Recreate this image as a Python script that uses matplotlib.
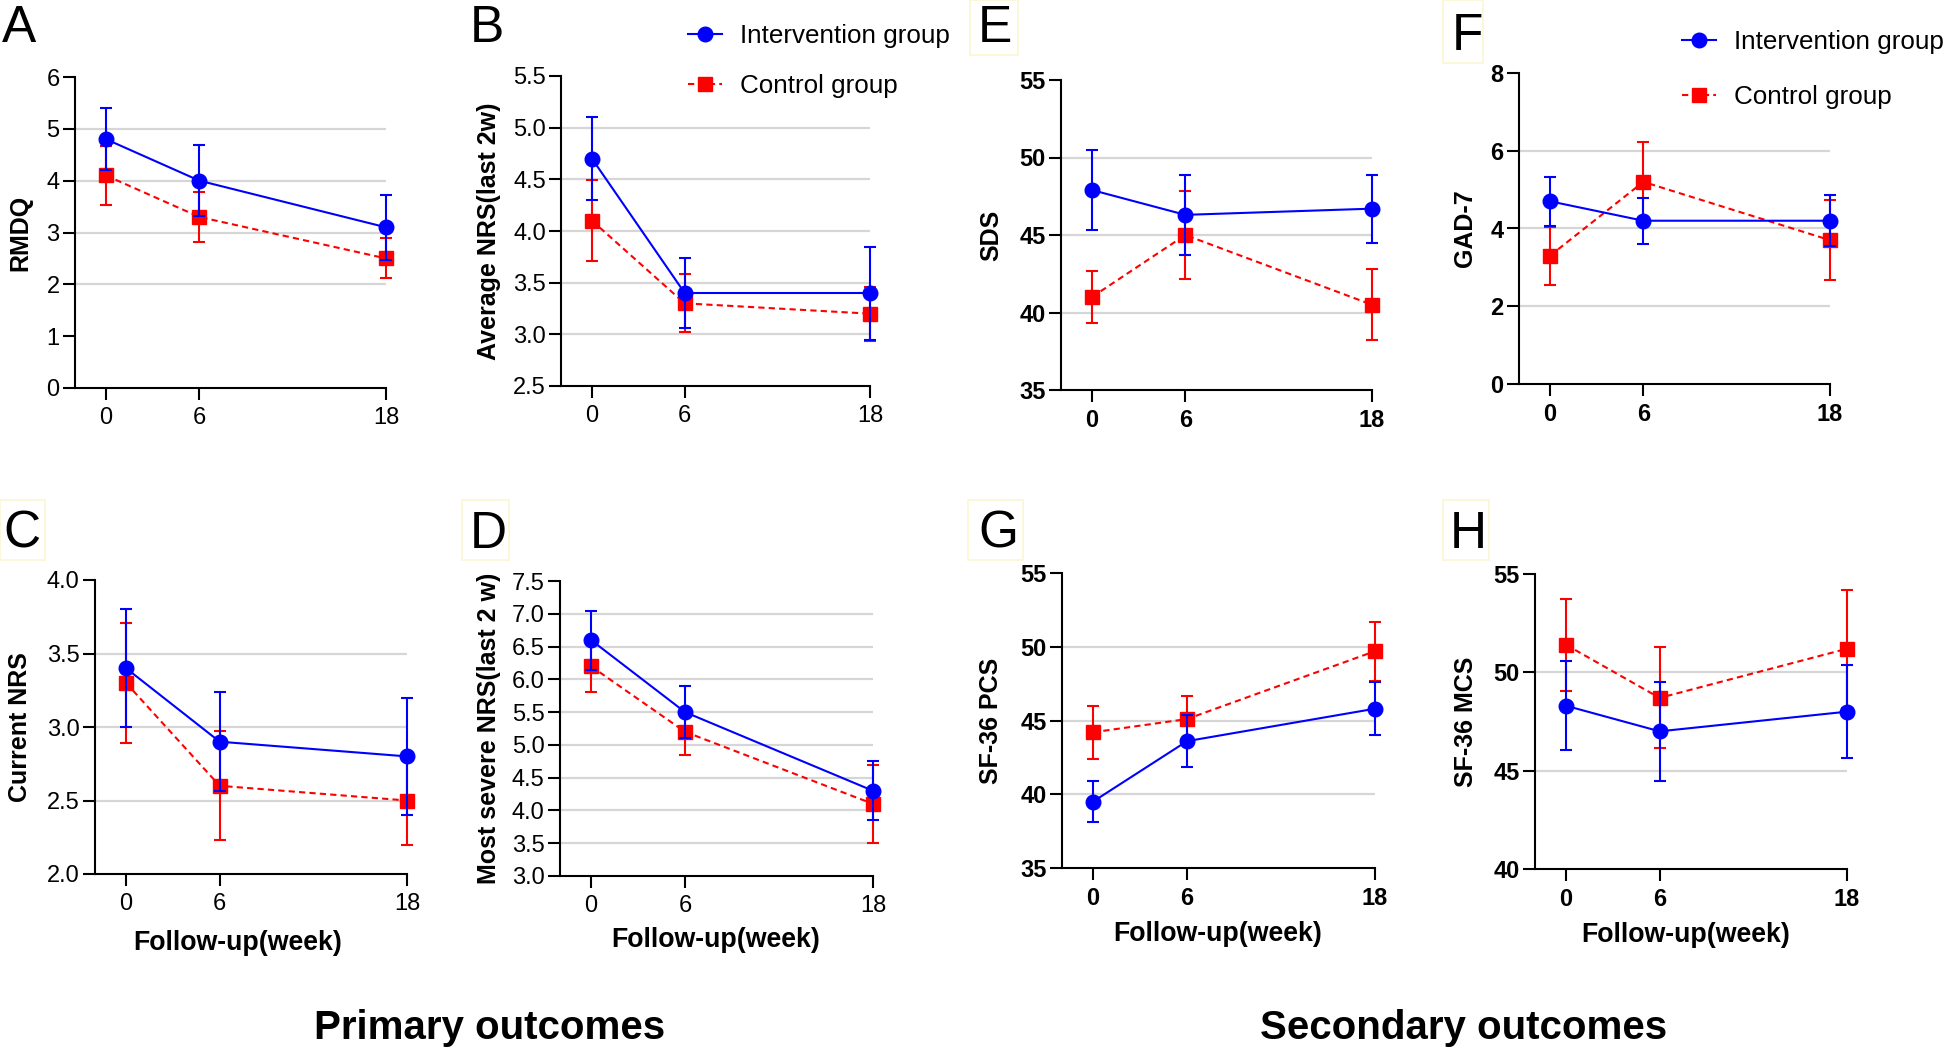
import matplotlib
matplotlib.use('Agg')
import matplotlib.pyplot as plt
from matplotlib.lines import Line2D
from matplotlib.patches import Rectangle
from matplotlib.ticker import FormatStrFormatter

plt.rcParams['font.family'] = ['Liberation Sans', 'DejaVu Sans']

W, H = 1946, 1054

weeks = [0, 6, 18]

# RMDQ
rmdq_int = [4.8, 4.0, 3.1]
rmdq_int_err = [0.6, 0.69, 0.63]
rmdq_ctl = [4.1, 3.3, 2.5]
rmdq_ctl_err = [0.57, 0.48, 0.385]

# average NRS (last 2w)
avg_int = [4.7, 3.4, 3.4]
avg_int_err = [0.4, 0.34, 0.45]
avg_ctl = [4.1, 3.3, 3.2]
avg_ctl_err = [0.39, 0.28, 0.26]

# current NRS
cur_int = [3.4, 2.9, 2.8]
cur_int_err = [0.4, 0.335, 0.4]
cur_ctl = [3.3, 2.6, 2.5]
cur_ctl_err = [0.41, 0.37, 0.3]

# most severe NRS (last 2 w)
sev_int = [6.6, 5.5, 4.3]
sev_int_err = [0.45, 0.4, 0.45]
sev_ctl = [6.2, 5.2, 4.1]
sev_ctl_err = [0.4, 0.35, 0.59]

# SDS
sds_int = [47.9, 46.3, 46.7]
sds_int_err = [2.56, 2.6, 2.2]
sds_ctl = [41.0, 45.0, 40.5]
sds_ctl_err = [1.65, 2.83, 2.28]

# GAD-7
gad_int = [4.7, 4.2, 4.2]
gad_int_err = [0.63, 0.59, 0.65]
gad_ctl = [3.3, 5.2, 3.7]
gad_ctl_err = [0.75, 1.02, 1.03]

# SF-36 PCS
pcs_int = [39.5, 43.6, 45.8]
pcs_int_err = [1.4, 1.75, 1.8]
pcs_ctl = [44.2, 45.1, 49.7]
pcs_ctl_err = [1.8, 1.55, 2.0]

# SF-36 MCS
mcs_int = [48.3, 47.0, 48.0]
mcs_int_err = [2.27, 2.53, 2.36]
mcs_ctl = [51.4, 48.7, 51.2]
mcs_ctl_err = [2.34, 2.57, 3.0]

BLUE = '#0000ff'
RED = '#ff0000'

fig = plt.figure(figsize=(W / 100, H / 100), dpi=100)


def panel(box, ylabel, yi, ei, yc, ec, ylim, ystep, grid, bold=False,
          fmt=None, ylab_dx=45, ylab_size=18, xlab=None):
    # box = (x0 px, x18 px, top px, bottom px)
    x0, x18, top, bot = box
    ppu = (x18 - x0) / 18
    left = x0 - 2 * ppu
    wpx = 21.5 * ppu
    hpx = bot - top
    ax = fig.add_axes([left / W, 1 - bot / H, wpx / W, hpx / H])
    ax.set_xlim(-2, 19.5)
    ax.set_ylim(*ylim)
    ax.hlines(grid, -2, 18, color='#d6d6d6', lw=1.6, zorder=0)

    ax.errorbar(weeks, yc, yerr=ec, color=RED, marker='s', ms=9.5,
                linestyle=(0, (3, 2)), lw=1.5, capsize=4.5, elinewidth=1.5,
                capthick=1.5, zorder=3)
    ax.errorbar(weeks, yi, yerr=ei, color=BLUE, marker='o', ms=10.5,
                linestyle='-', lw=1.5, capsize=4.5, elinewidth=1.5,
                capthick=1.5, zorder=4)

    for s in ['top', 'right']:
        ax.spines[s].set_visible(False)
    for s in ['left', 'bottom']:
        ax.spines[s].set_linewidth(1.5)
    ax.spines['bottom'].set_bounds(-2, 18)
    ax.set_xticks(weeks)
    yt = []
    v = ylim[0]
    while v <= ylim[1] + 1e-9:
        yt.append(round(v, 2))
        v += ystep
    ax.set_yticks(yt)
    if fmt:
        ax.yaxis.set_major_formatter(FormatStrFormatter(fmt))
    ax.tick_params(direction='out', length=8.5, width=1.5, labelsize=17)
    ax.tick_params(axis='x', pad=5.5)
    ax.tick_params(axis='y', pad=2.5)
    if bold:
        for t in ax.get_xticklabels() + ax.get_yticklabels():
            t.set_fontweight('bold')

    ax.set_ylabel(ylabel, fontsize=ylab_size, fontweight='bold')
    ax.yaxis.set_label_coords(-ylab_dx / wpx, 0.5)
    if xlab is not None:
        ax.set_xlabel('Follow-up(week)', fontsize=19.3, fontweight='bold')
        cx, base = xlab
        ax.xaxis.set_label_coords((cx - left) / wpx, (bot - base) / hpx)
        ax.xaxis.label.set_verticalalignment('baseline')
    return ax


panel((106, 386, 77, 388), 'RMDQ', rmdq_int, rmdq_int_err, rmdq_ctl, rmdq_ctl_err,
      (0, 6), 1, [2, 3, 4, 5], ylab_dx=43)
panel((592, 870, 76, 386), 'Average NRS(last 2w)', avg_int, avg_int_err, avg_ctl, avg_ctl_err,
      (2.5, 5.5), 0.5, [3.0, 3.5, 4.0, 4.5, 5.0], fmt='%.1f', ylab_dx=60)
panel((126, 407, 580, 874), 'Current NRS', cur_int, cur_int_err, cur_ctl, cur_ctl_err,
      (2.0, 4.0), 0.5, [2.5, 3.0, 3.5], fmt='%.1f', ylab_dx=63, xlab=(238, 950))
panel((591, 873, 581, 876), 'Most severe NRS(last 2 w)', sev_int, sev_int_err, sev_ctl, sev_ctl_err,
      (3.0, 7.5), 0.5, [3.5, 4.0, 4.5, 5.0, 5.5, 6.0, 6.5, 7.0], fmt='%.1f',
      ylab_dx=59, xlab=(716, 947))
panel((1092, 1372, 80, 390), 'SDS', sds_int, sds_int_err, sds_ctl, sds_ctl_err,
      (35, 55), 5, [40, 45, 50], bold=True, ylab_dx=58)
panel((1550, 1830, 73, 384), 'GAD-7', gad_int, gad_int_err, gad_ctl, gad_ctl_err,
      (0, 8), 2, [2, 4, 6], bold=True, ylab_dx=42)
panel((1093, 1375, 573, 868), 'SF-36 PCS', pcs_int, pcs_int_err, pcs_ctl, pcs_ctl_err,
      (35, 55), 5, [40, 45, 50], bold=True, ylab_dx=59, xlab=(1218, 941))
panel((1566, 1847, 574, 869), 'SF-36 MCS', mcs_int, mcs_int_err, mcs_ctl, mcs_ctl_err,
      (40, 55), 5, [45, 50], bold=True, ylab_dx=57, xlab=(1686, 942))

# panel letters (baseline positions in px), faint boxes on some
letters = [('A', 2, 42), ('B', 470, 42), ('E', 978, 42), ('F', 1452, 50),
           ('C', 3, 547), ('D', 470, 548), ('G', 978, 548), ('H', 1450, 548)]
for lab, x, y in letters:
    fig.text(x / W, 1 - y / H, lab, fontsize=37, va='baseline', ha='left')

boxes = [(970, 0, 48, 55), (1443, 0, 40, 63), (0, 500, 45, 60),
         (462, 500, 47, 60), (968, 500, 55, 60), (1443, 500, 46, 60)]
for bx, by, bw, bh in boxes:
    fig.add_artist(Rectangle((bx / W, 1 - (by + bh) / H), bw / W, bh / H,
                             transform=fig.transFigure, fill=False,
                             edgecolor='#fbf6d2', lw=1.2))

handles = [Line2D([], [], color=BLUE, marker='o', ms=10.5, lw=1.5),
           Line2D([], [], color=RED, marker='s', ms=9.5, lw=1.5, linestyle=(0, (3, 2)))]
names = ['Intervention group', 'Control group']
for lx, ly, sp in [(688, 24, 1.0), (1682, 30, 1.2)]:
    fig.legend(handles, names, loc='upper left', bbox_to_anchor=(lx / W, 1 - ly / H),
               frameon=False, fontsize=18.7, handlelength=1.3, handletextpad=0.7,
               labelspacing=sp, borderpad=0, borderaxespad=0)

fig.text(490 / W, 1 - 1028 / H, 'Primary outcomes', fontsize=29, fontweight='bold',
         ha='center', va='center')
fig.text(1464 / W, 1 - 1028 / H, 'Secondary outcomes', fontsize=29, fontweight='bold',
         ha='center', va='center')

fig.savefig('out.png', dpi=100)
